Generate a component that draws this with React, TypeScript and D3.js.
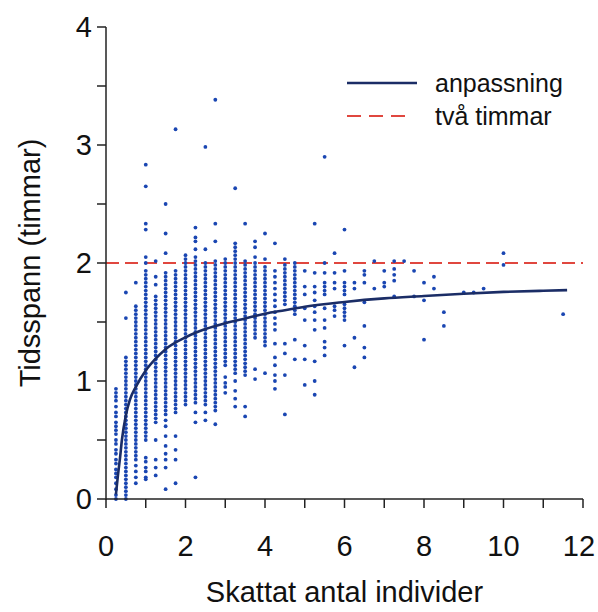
import React from "react";
import * as d3 from "d3";

// Estimated number of individuals (x) for each column of points
const countValues: number[] = [
  0.25, 0.5, 0.75, 1, 1.25, 1.5, 1.75, 2, 2.25, 2.5, 2.75, 3, 3.25, 3.5, 3.75, 4,
  4.25, 4.5, 4.75, 5, 5.25, 5.5, 5.75, 6, 6.25, 6.5, 6.75, 7, 7.25, 7.5, 7.75, 8,
  8.25, 8.5, 9, 9.25, 9.5, 10, 11.5,
];

// Time spans (minutes) observed for each column above
const spanMinutes: number[][] = [
  [0, 2, 5, 8, 11, 13, 15, 18, 20, 23, 25, 28, 30, 33, 35, 37, 39, 42, 44, 47, 50, 52, 54, 56],
  [105, 92, 72, 70, 68, 66, 64, 62, 60, 58, 56, 54, 52, 50, 48, 46, 44, 42, 40, 38, 36, 34, 32, 30, 28, 26, 24, 22, 20, 18, 16, 14, 12, 10, 8, 6, 4, 2, 0],
  [110, 98, 96, 94, 92, 90, 88, 86, 84, 82, 80, 78, 76, 74, 72, 70, 68, 66, 64, 62, 60, 58, 56, 54, 52, 50, 48, 46, 44, 42, 40, 38, 36, 34, 32, 30, 28, 26, 24, 22, 20, 17, 14, 11, 8],
  [170, 159, 140, 137, 123, 120, 116, 114, 112, 110, 108, 106, 104, 102, 100, 98, 96, 94, 92, 90, 88, 86, 84, 82, 80, 78, 76, 74, 72, 70, 68, 66, 64, 62, 60, 58, 56, 54, 52, 50, 48, 46, 44, 42, 40, 38, 36, 34, 32, 30, 21, 19, 16, 14, 11, 10],
  [121, 113, 109, 103, 101, 99, 97, 95, 93, 91, 89, 87, 85, 83, 81, 79, 77, 75, 73, 71, 69, 67, 65, 63, 61, 59, 57, 55, 53, 51, 49, 47, 45, 43, 41, 39, 30, 20, 16, 12],
  [150, 135, 125, 115, 113, 111, 109, 107, 105, 103, 101, 99, 97, 95, 93, 91, 89, 87, 85, 83, 81, 79, 77, 75, 73, 71, 69, 67, 65, 63, 61, 59, 57, 55, 53, 51, 49, 47, 45, 43, 40, 37, 32, 27, 23, 20, 16, 5],
  [188, 116, 114, 112, 110, 108, 106, 104, 102, 100, 98, 96, 94, 92, 90, 88, 86, 84, 82, 80, 78, 76, 74, 72, 70, 68, 66, 64, 62, 60, 58, 56, 54, 52, 50, 48, 46, 44, 32, 25, 20, 8],
  [124, 122, 120, 118, 116, 114, 112, 110, 108, 106, 104, 102, 100, 98, 96, 94, 92, 90, 88, 86, 84, 82, 80, 78, 76, 74, 72, 70, 68, 66, 64, 62, 60, 58, 56, 54, 52, 50, 48],
  [138, 133, 131, 127, 123, 121, 119, 117, 115, 113, 111, 109, 107, 105, 103, 101, 99, 97, 95, 93, 91, 89, 87, 85, 83, 81, 79, 77, 75, 73, 71, 69, 67, 65, 63, 61, 59, 57, 55, 53, 51, 49, 44, 39, 11],
  [179, 127, 120, 118, 116, 114, 112, 110, 108, 106, 104, 102, 100, 98, 96, 94, 92, 90, 88, 86, 84, 82, 80, 78, 76, 74, 72, 70, 68, 66, 64, 62, 60, 58, 56, 54, 52, 50, 48, 44, 40],
  [203, 140, 131, 121, 119, 117, 115, 113, 111, 109, 107, 105, 103, 101, 99, 97, 95, 93, 91, 89, 87, 85, 83, 81, 79, 77, 75, 73, 71, 69, 67, 65, 63, 61, 59, 57, 55, 53, 51, 49, 47, 45, 38],
  [122, 120, 118, 116, 114, 112, 110, 108, 106, 104, 102, 100, 98, 96, 94, 92, 90, 88, 86, 84, 82, 80, 78, 76, 74, 72, 70, 68, 62, 59, 57, 54],
  [158, 130, 128, 126, 124, 122, 120, 118, 116, 114, 112, 110, 108, 106, 104, 102, 100, 98, 96, 94, 92, 90, 88, 86, 84, 82, 80, 78, 76, 74, 72, 70, 68, 66, 64, 60, 55, 51, 47],
  [140, 121, 119, 117, 115, 113, 111, 109, 107, 105, 103, 101, 99, 97, 95, 93, 91, 89, 87, 85, 83, 81, 79, 77, 75, 73, 71, 69, 67, 65, 63, 47, 42],
  [131, 128, 123, 120, 118, 116, 114, 112, 110, 108, 106, 104, 102, 100, 98, 96, 94, 92, 90, 88, 86, 84, 82, 66, 61],
  [135, 122, 118, 116, 114, 112, 110, 108, 106, 104, 102, 100, 98, 96, 94, 92, 90, 88, 86, 84, 82, 80, 78, 64],
  [130, 116, 113, 110, 107, 104, 101, 98, 95, 92, 89, 86, 79, 72, 68, 63, 60, 56],
  [122, 119, 117, 115, 113, 111, 109, 107, 105, 103, 101, 99, 79, 74, 63, 43],
  [120, 118, 116, 114, 112, 110, 108, 106, 104, 102, 100, 98, 96, 94, 81, 71],
  [116, 108, 104, 97, 91, 78, 71, 58],
  [140, 115, 108, 105, 101, 98, 95, 91, 86, 70, 60, 53],
  [174, 120, 115, 110, 108, 106, 104, 97, 91, 87, 80, 77, 73],
  [125, 115, 110, 107, 98, 96, 93],
  [137, 116, 110, 108, 106, 104, 99, 97, 95, 93, 91, 78],
  [110, 107, 82, 67],
  [116, 114, 110, 100, 88, 77, 72],
  [121, 107],
  [116, 110, 108],
  [121, 117, 114, 111, 103],
  [121],
  [116, 103],
  [110, 101, 81],
  [113, 107],
  [95, 88],
  [105],
  [105],
  [107],
  [125, 119],
  [94],
];

// Fitted curve ("anpassning")
const fitX: number[] = [0.25, 0.3, 0.35, 0.4, 0.5, 0.6, 0.75, 1, 1.25, 1.5, 2, 2.5, 3, 3.5, 4, 4.5, 5, 6, 7, 8, 9, 10, 11, 11.6];
const fitY: number[] = [0.04, 0.2, 0.34, 0.5, 0.71, 0.84, 0.95, 1.09, 1.19, 1.27, 1.37, 1.44, 1.49, 1.53, 1.57, 1.6, 1.63, 1.67, 1.7, 1.72, 1.74, 1.755, 1.765, 1.77];

const twoHours = 2;

const xTickLabels: number[] = [0, 2, 4, 6, 8, 10, 12];
const xTicks: number[] = [0, 1, 2, 3, 4, 5, 6, 7, 8, 9, 10, 11, 12];
const yTickLabels: number[] = [0, 1, 2, 3, 4];
const yTicks: number[] = [0, 0.5, 1, 1.5, 2, 2.5, 3, 3.5, 4];

const xTitle = "Skattat antal individer";
const yTitle = "Tidsspann (timmar)";
const legendLabels = ["anpassning", "två timmar"];

export default function App() {
  const W = 598;
  const H = 612;
  const x = d3.scaleLinear().domain([0, 12]).range([106, 583]);
  const y = d3.scaleLinear().domain([0, 4]).range([499, 27]);

  const points: { cx: number; cy: number }[] = [];
  countValues.forEach((c, i) => {
    spanMinutes[i].forEach((m) => points.push({ cx: x(c), cy: y(m / 60) }));
  });

  const line = d3
    .line<number>()
    .x((_, i) => x(fitX[i]))
    .y((d) => y(d))
    .curve(d3.curveMonotoneX);

  const font = "'Liberation Sans', Arial, sans-serif";
  const axisColor = "#222";
  const dotColor = "#1a46b2";
  const fitColor = "#1b2d66";
  const redColor = "#e0473f";
  const tickFont = 29;

  return (
    <svg
      width={W}
      height={H}
      style={{ position: "absolute", left: 0, top: 0, background: "#fff" }}
      fontFamily={font}
    >
      <rect width={W} height={H} fill="#fff" />
      {/* dashed two-hour line */}
      <line
        x1={x(0)}
        x2={x(12)}
        y1={y(twoHours)}
        y2={y(twoHours)}
        stroke={redColor}
        strokeWidth={2}
        strokeDasharray="13,6"
      />
      {/* points */}
      <g fill={dotColor}>
        {points.map((p, i) => (
          <circle key={i} cx={p.cx} cy={p.cy} r={1.9} />
        ))}
      </g>
      {/* fit */}
      <path d={line(fitY) || ""} fill="none" stroke={fitColor} strokeWidth={2.6} />

      {/* axes */}
      <line x1={x(0)} x2={x(0)} y1={y(4)} y2={y(0) + 1} stroke={axisColor} strokeWidth={1.5} />
      <line x1={x(0)} x2={x(12)} y1={y(0)} y2={y(0)} stroke={axisColor} strokeWidth={1.5} />
      {yTicks.map((t) => (
        <line key={"yt" + t} x1={x(0) - 9} x2={x(0)} y1={y(t)} y2={y(t)} stroke={axisColor} strokeWidth={1.5} />
      ))}
      {xTicks.map((t) => (
        <line key={"xt" + t} x1={x(t)} x2={x(t)} y1={y(0)} y2={y(0) + 9} stroke={axisColor} strokeWidth={1.5} />
      ))}
      {yTickLabels.map((t) => (
        <text key={"yl" + t} x={x(0) - 14} y={y(t)} dy="0.36em" textAnchor="end" fontSize={tickFont} fill="#111">
          {t}
        </text>
      ))}
      {xTickLabels.map((t) => (
        <text
          key={"xl" + t}
          x={Math.min(x(t), W - 19)}
          y={556}
          textAnchor="middle"
          fontSize={tickFont}
          fill="#111"
        >
          {t}
        </text>
      ))}
      <text x={(x(0) + x(12)) / 2} y={602} textAnchor="middle" fontSize={29} fill="#111">
        {xTitle}
      </text>
      <text
        transform={`translate(40, ${(y(0) + y(4)) / 2}) rotate(-90)`}
        textAnchor="middle"
        fontSize={29}
        fill="#111"
      >
        {yTitle}
      </text>

      {/* legend */}
      <line x1={347} x2={417} y1={83} y2={83} stroke={fitColor} strokeWidth={2.6} />
      <line x1={347} x2={412} y1={116} y2={116} stroke={redColor} strokeWidth={2} strokeDasharray="14,8" />
      <text x={435} y={92} fontSize={25} fill="#111">
        {legendLabels[0]}
      </text>
      <text x={435} y={125} fontSize={25} fill="#111">
        {legendLabels[1]}
      </text>
    </svg>
  );
}
